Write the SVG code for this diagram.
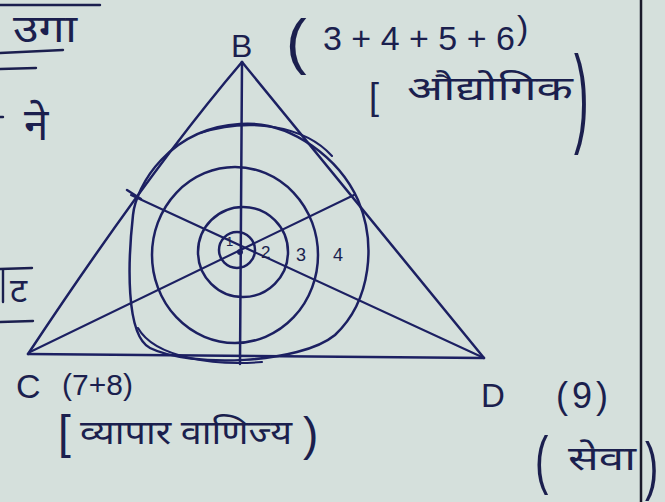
<svg xmlns="http://www.w3.org/2000/svg" width="665" height="502" viewBox="0 0 665 502">
<style>
.ink{fill:none;stroke:#1c2062;stroke-width:2.5;stroke-linecap:round;stroke-linejoin:round}
.thin{fill:none;stroke:#1c2062;stroke-width:2.1;stroke-linecap:round}
.txt{fill:#1b1f4e;font-family:"Liberation Sans",Arial,sans-serif}
.dev{fill:#1b1f4e;font-family:"Noto Sans Devanagari","Lohit Devanagari","Noto Sans","DejaVu Sans",sans-serif}
.rule{stroke:#1b1f4e;stroke-width:2.4;stroke-linecap:round}
</style>
<rect x="0" y="0" width="665" height="502" fill="#d5e0dc"/>
<line x1="641" y1="0" x2="641" y2="502" stroke="#1a1a2a" stroke-width="2.5"/>

<g id="left-notes">
<line class="rule" x1="0" y1="5" x2="100" y2="5"/>
<text class="dev" x="13" y="42" font-size="38" textLength="64" lengthAdjust="spacingAndGlyphs">उगा</text>
<line class="rule" x1="0" y1="53" x2="63" y2="50"/>
<line class="rule" x1="0" y1="69" x2="36" y2="68"/>
<line class="rule" x1="0" y1="117" x2="3" y2="117"/>
<text class="dev" x="24" y="140" font-size="44">ने</text>
<line class="rule" x1="0" y1="269" x2="32" y2="268"/>
<line class="rule" x1="3" y1="270" x2="3" y2="302"/>
<text class="dev" x="10" y="302" font-size="34">ट</text>
<line class="rule" x1="0" y1="322" x2="33" y2="321"/>
</g>

<g id="connectors">
<path class="ink" d="M242,62 Q150,170 28,354"/>
<line class="ink" x1="242" y1="62" x2="484" y2="358"/>
<line class="ink" x1="28" y1="354" x2="484" y2="358"/>
<line class="ink" x1="242" y1="62" x2="240" y2="364"/>
<line class="thin" x1="30" y1="352" x2="354" y2="195"/>
<line class="thin" x1="484" y1="358" x2="131" y2="195"/>
<line class="ink" x1="127" y1="190" x2="141" y2="199" stroke-width="4"/>
</g>

<g id="rings">
<path class="ink" d="M240,124 C292,120 340,160 358,200 C376,242 372,300 335,335 C300,364 190,368 150,348 C125,335 128,260 133,215 C136,185 170,128 240,124 Z"/>
<path class="thin" d="M200,133 C250,117 305,126 332,156"/>
<path class="thin" d="M138,328 C155,358 215,366 262,362"/>
<ellipse class="ink" cx="235" cy="255" rx="83" ry="88"/>
<circle class="ink" cx="243" cy="252" r="45"/>
<circle class="ink" cx="237" cy="250" r="18"/>
<circle cx="240" cy="252" r="3" fill="#1c2062"/>
<text class="txt" x="226" y="246" font-size="13">1</text>
<text class="txt" x="261" y="258" font-size="17">2</text>
<text class="txt" x="296" y="261" font-size="18">3</text>
<text class="txt" x="333" y="261" font-size="18">4</text>
</g>

<g id="node-B">
<text class="txt" x="231" y="57" font-size="32">B</text>
<text class="txt" x="286" y="62" font-size="62">(</text>
<text class="txt" x="323" y="50" font-size="34">3 + 4 + 5 + 6</text>
<text class="txt" x="517" y="39" font-size="34">)</text>
<text class="txt" x="369" y="109" font-size="36">[</text>
<text class="dev" x="407" y="100" font-size="34" textLength="166" lengthAdjust="spacingAndGlyphs">औद्योगिक</text>
<text class="txt" x="0" y="0" font-size="44" transform="translate(574,132) scale(1,2.5)">)</text>
</g>

<g id="node-C">
<text class="txt" x="16" y="398" font-size="34">C</text>
<text class="txt" x="62" y="395" font-size="30">(7+8)</text>
<text class="txt" x="58" y="448" font-size="46">[</text>
<text class="dev" x="80" y="444" font-size="34" textLength="212" lengthAdjust="spacingAndGlyphs">व्यापार वाणिज्य</text>
<text class="txt" x="303" y="450" font-size="46">)</text>
</g>

<g id="node-D">
<text class="txt" x="481" y="407" font-size="33">D</text>
<text class="txt" x="556" y="408" font-size="36" letter-spacing="4">(9)</text>
<text class="txt" x="0" y="0" font-size="40" transform="translate(535,482) scale(1,1.6)">(</text>
<text class="dev" x="568" y="470" font-size="34" textLength="68" lengthAdjust="spacingAndGlyphs">सेवा</text>
<text class="txt" x="0" y="0" font-size="40" transform="translate(645,488) scale(1,1.6)">)</text>
</g>
</svg>
